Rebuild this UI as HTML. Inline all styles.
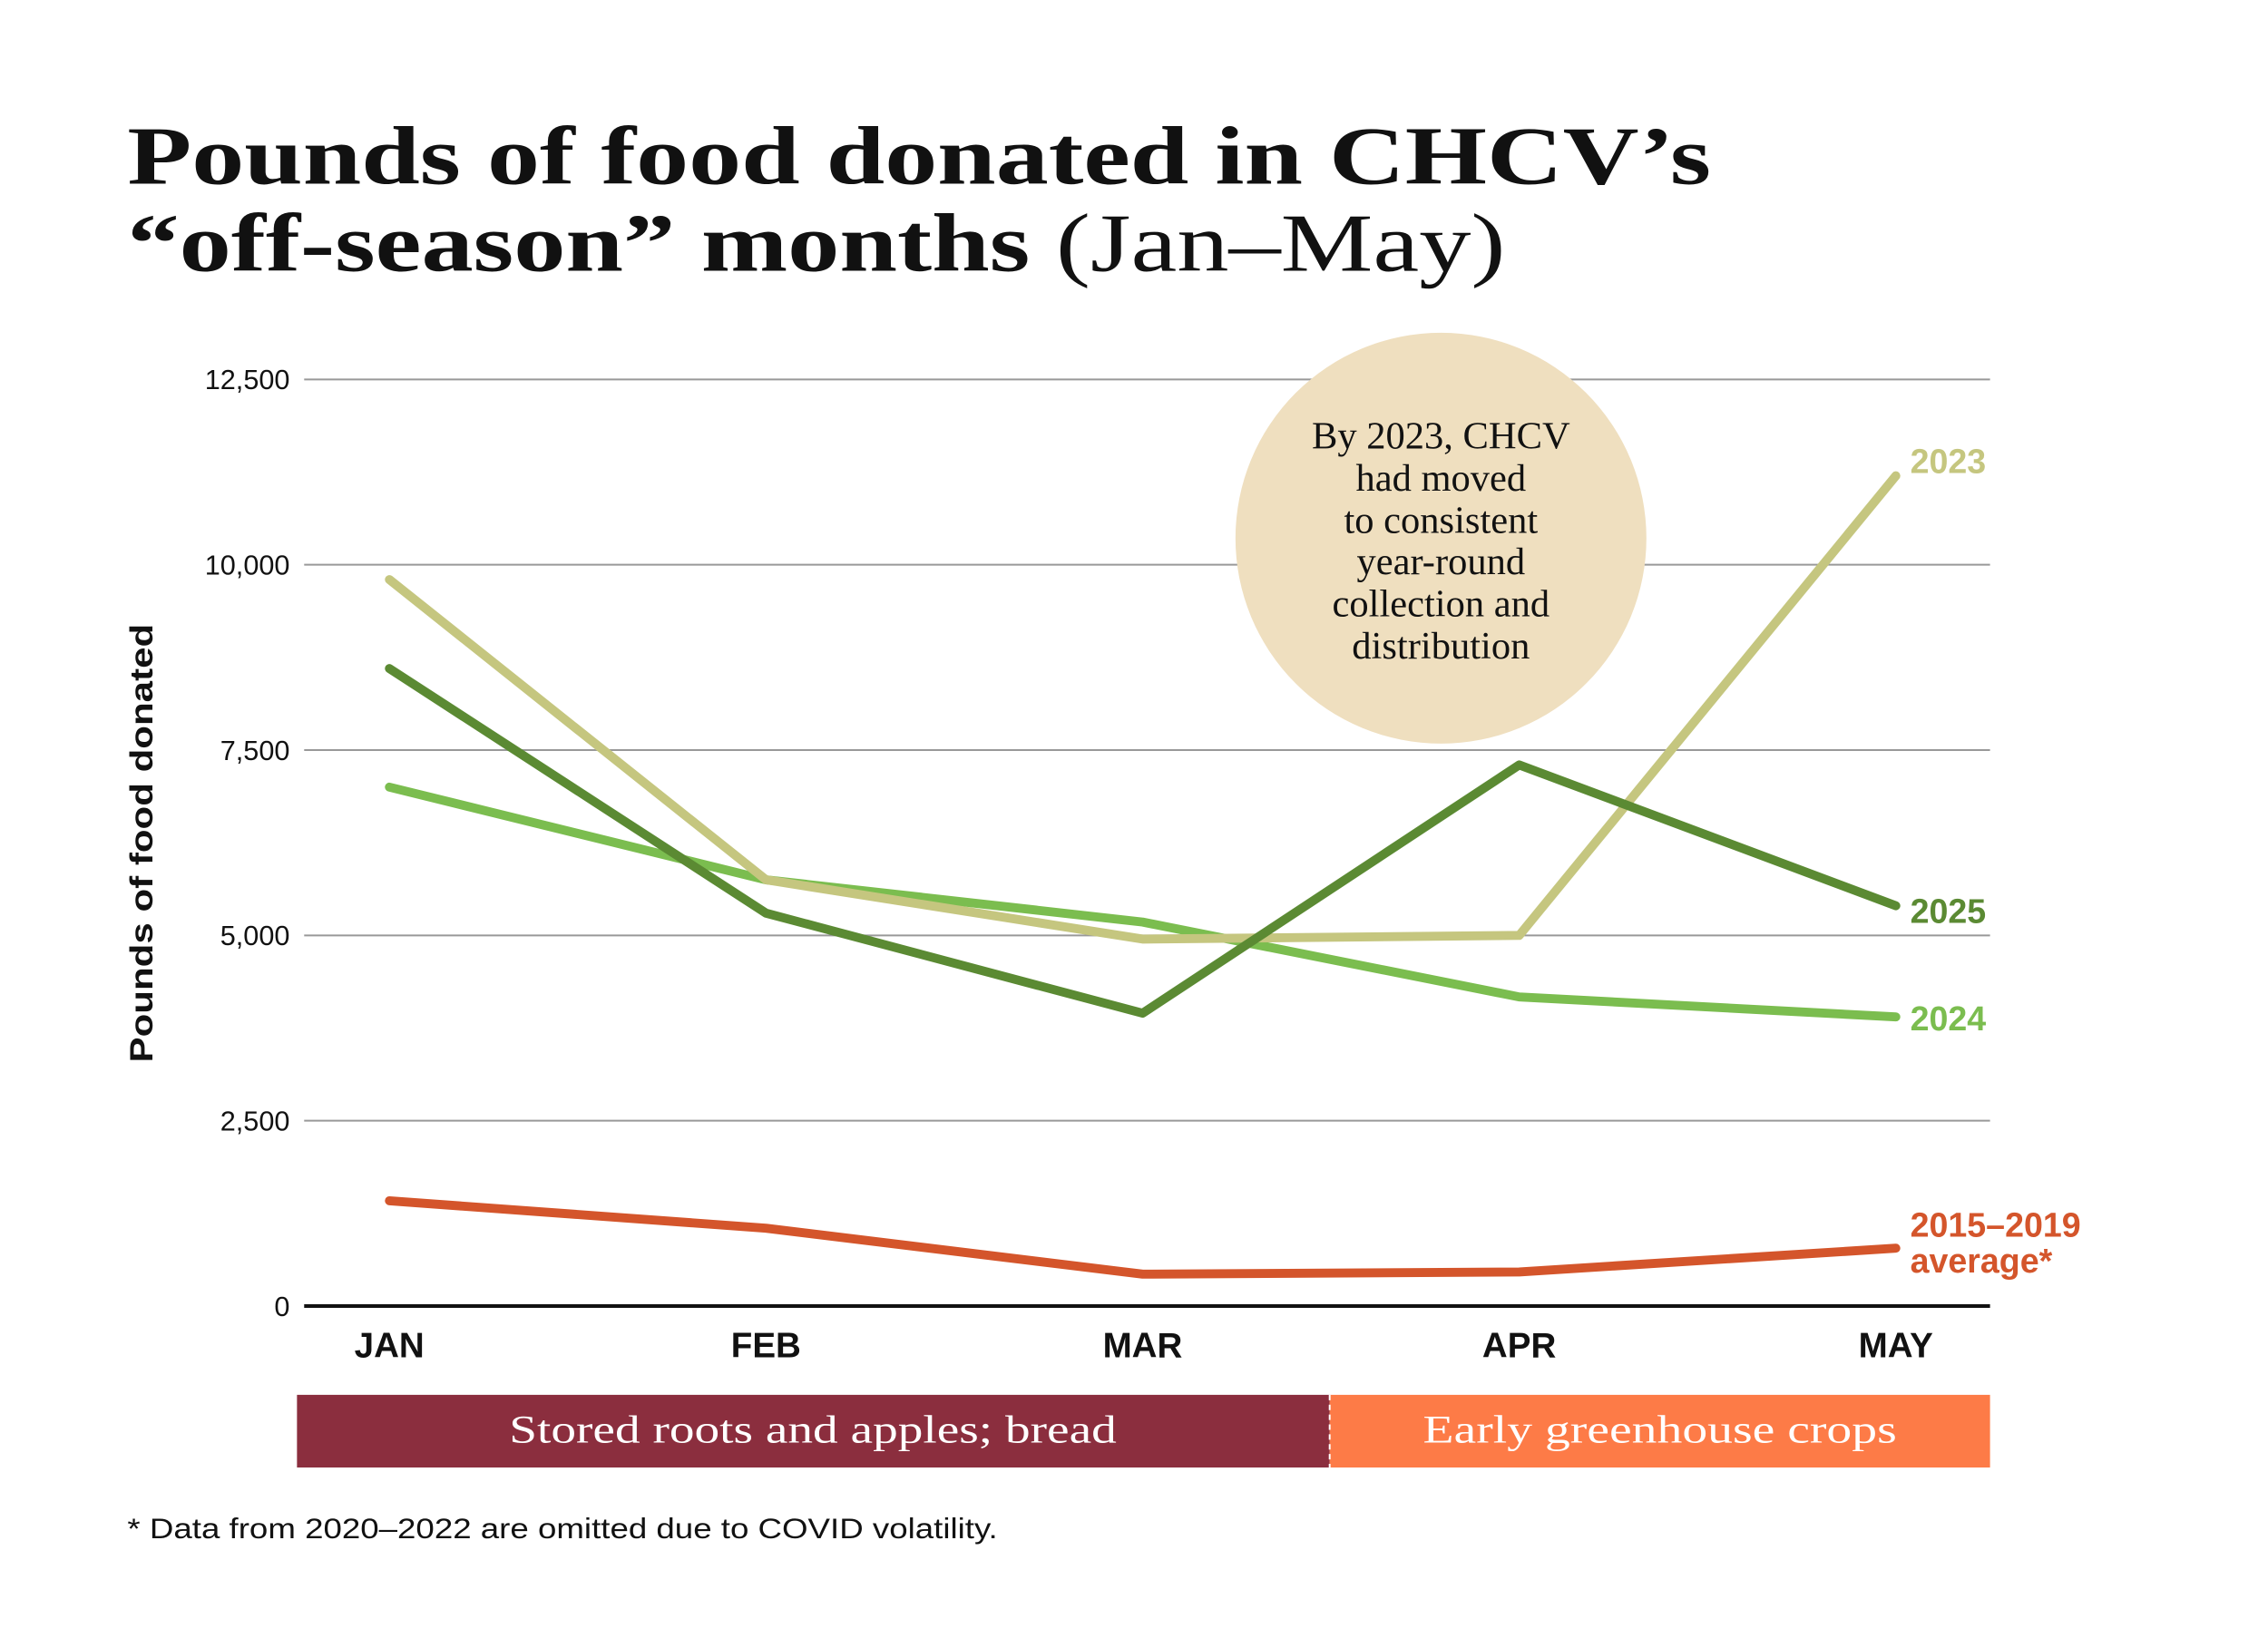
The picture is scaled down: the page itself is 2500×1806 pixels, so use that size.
<!DOCTYPE html>
<html><head><meta charset="utf-8"><style>
body{margin:0;background:#fff;}
svg{display:block;}
</style></head><body>
<svg id="chart" width="2500" height="1806" xmlns="http://www.w3.org/2000/svg">
<g transform="scale(0.989)">
<g font-family="'Liberation Serif', serif" font-weight="bold" fill="#111">
<text x="142" y="205" font-size="92" textLength="1765" lengthAdjust="spacingAndGlyphs">Pounds of food donated in CHCV’s</text>
<text x="142" y="302" font-size="92" textLength="1536" lengthAdjust="spacingAndGlyphs">“off-season” months <tspan font-weight="normal">(Jan–May)</tspan></text>
</g>
<g id="grid"></g>
<circle cx="1606" cy="600" r="229" fill="#efdfbf"/>
<g font-family="'Liberation Serif', serif" font-size="43" text-anchor="middle" fill="#111">
<text x="1606" y="500">By 2023, CHCV</text>
<text x="1606" y="547">had moved</text>
<text x="1606" y="594">to consistent</text>
<text x="1606" y="640">year-round</text>
<text x="1606" y="687">collection and</text>
<text x="1606" y="734">distribution</text>
</g>
<g id="lines"></g>
<text transform="translate(170,940) rotate(-90)" text-anchor="middle" font-family="'Liberation Sans', sans-serif" font-weight="bold" font-size="36" fill="#111" textLength="489" lengthAdjust="spacingAndGlyphs">Pounds of food donated</text>
<rect x="331" y="1555" width="1151" height="81" fill="#8b2e3e"/>
<rect x="1482" y="1555" width="736" height="81" fill="#fd7b47"/>
<line x1="1482" y1="1555" x2="1482" y2="1636" stroke="#fff" stroke-width="2" stroke-dasharray="6,5"/>
<text x="906" y="1608" text-anchor="middle" font-family="'Liberation Serif', serif" font-size="44" fill="#fff" textLength="677" lengthAdjust="spacingAndGlyphs">Stored roots and apples; bread</text>
<text x="1850" y="1608" text-anchor="middle" font-family="'Liberation Serif', serif" font-size="44" fill="#fff" textLength="528" lengthAdjust="spacingAndGlyphs">Early greenhouse crops</text>
<text x="142" y="1715" font-family="'Liberation Sans', sans-serif" font-size="32" fill="#111" textLength="970" lengthAdjust="spacingAndGlyphs">* Data from 2020–2022 are omitted due to COVID volatility.</text>
</g>
</svg>
<script>
const months = ["JAN","FEB","MAR","APR","MAY"];
const yTicks = [0,2500,5000,7500,10000,12500];
const yTickLabels = ["0","2,500","5,000","7,500","10,000","12,500"];
const s2023 = [9800,5750,4950,5000,11200];
const s2025 = [8600,5300,3950,7300,5400];
const s2024 = [7000,5750,5180,4170,3900];
const sAvg = [1420,1050,430,460,780];
const NS="http://www.w3.org/2000/svg";
function xPos(i){return 434+i*(2113-434)/4;}
function yPos(v){return 1456-v*(1456-423)/12500;}
function mk(tag,attrs,parent){const e=document.createElementNS(NS,tag);for(const k in attrs)e.setAttribute(k,attrs[k]);parent.appendChild(e);return e;}
const grid=document.getElementById('grid');
yTicks.forEach((t,i)=>{
  const l=mk('line',{x1:339,x2:2218,y1:yPos(t),y2:yPos(t),stroke:t===0?'#111':'#999','stroke-width':t===0?4:2},grid);
  
  
  const tx=mk('text',{x:323,y:yPos(t)+11,'text-anchor':'end','font-family':"'Liberation Sans', sans-serif",'font-size':31,fill:'#111'},grid);
  tx.textContent=yTickLabels[i];
  
  
});
months.forEach((m,i)=>{
  const tx=mk('text',{x:xPos(i),y:1513,'text-anchor':'middle','font-family':"'Liberation Sans', sans-serif",'font-weight':'bold','font-size':39,fill:'#111'},grid);
  tx.textContent=m;
  
  
});
const lines=document.getElementById('lines');
function series(vals,color,name){
  const pts=vals.map((v,i)=>xPos(i)+','+yPos(v)).join(' ');
  const p=mk('polyline',{points:pts,fill:'none',stroke:color,'stroke-width':10,'stroke-linecap':'round','stroke-linejoin':'round'},lines);
  
  
}
series(sAvg,'#d4552b','line-2015-2019-average');
series(s2024,'#7bbd4f','line-2024');
series(s2023,'#c5c67f','line-2023');
series(s2025,'#5b8a33','line-2025');
function lab(txt,v,color,name,dy){
  const t=mk('text',{x:2129,y:yPos(v)+13+(dy||0),'font-family':"'Liberation Sans', sans-serif",'font-weight':'bold','font-size':38,fill:color},lines);
  t.textContent=txt;
  
  
}
lab('2023',s2023[4],'#c5c67f','label-2023',-16);
lab('2025',s2025[4],'#5b8a33','label-2025',6);
lab('2024',s2024[4],'#7bbd4f','label-2024',2);
lab('2015–2019',sAvg[4],'#d4552b','label-average',-26);
lab('average*',sAvg[4],'#d4552b','label-average-2',14);
</script>
</body></html>
